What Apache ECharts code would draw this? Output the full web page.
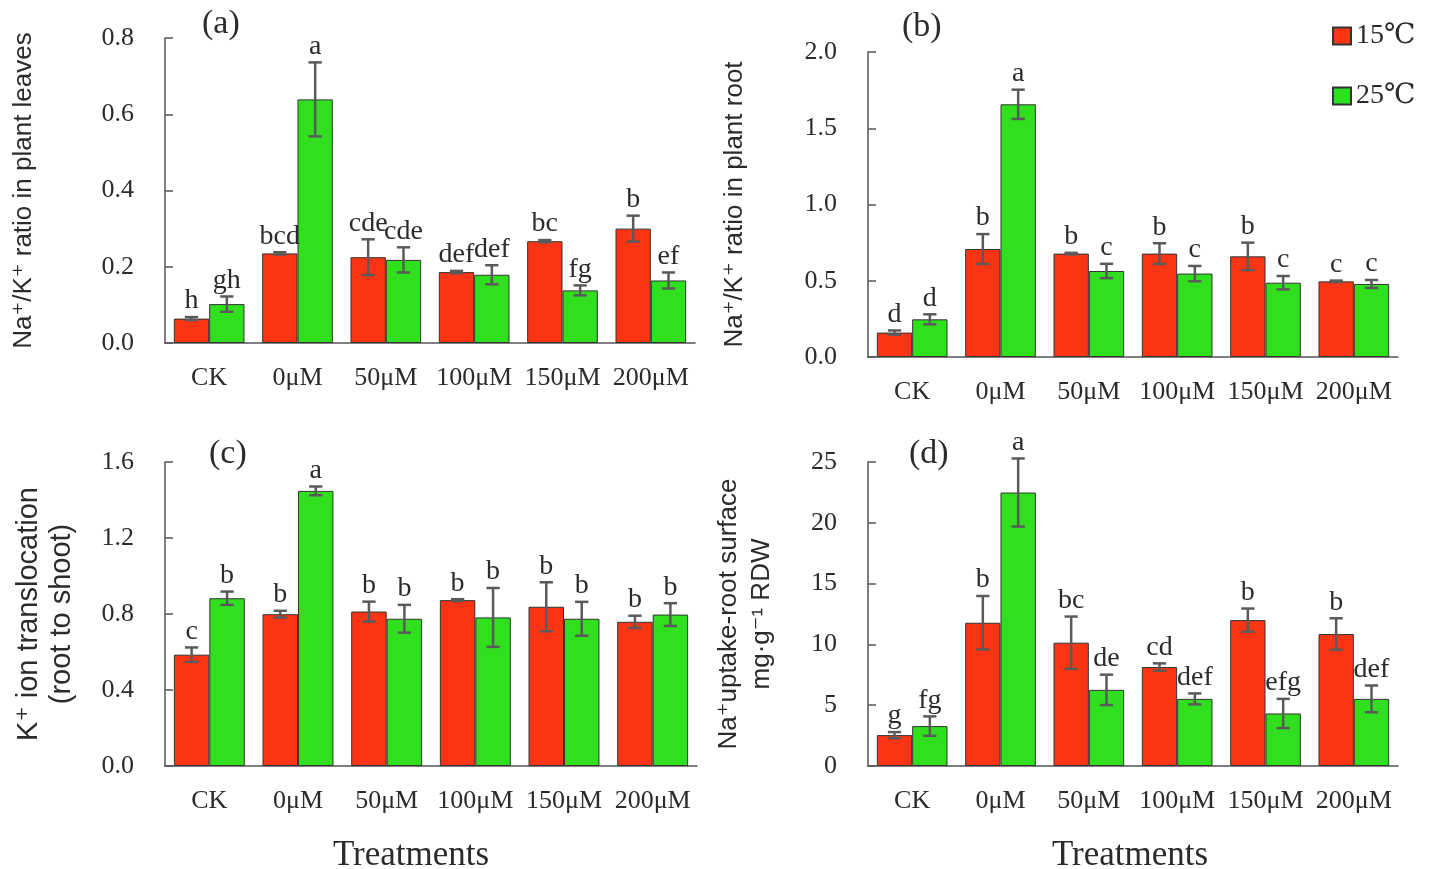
<!DOCTYPE html>
<html>
<head>
<meta charset="utf-8">
<script src="https://cdn.jsdelivr.net/npm/echarts@6/dist/echarts.min.js"></script>
<style>html,body{margin:0;padding:0;background:#fff}#c{width:1436px;height:869px}</style>
</head>
<body>
<div id="c"></div>
<script>
// ---------- data ----------
const categories = ['CK', '0μM', '50μM', '100μM', '150μM', '200μM'];
const seriesNames = ['15℃', '25℃'];

// (a) Na+/K+ ratio in plant leaves
const a15 = [0.064, 0.235, 0.225, 0.186, 0.267, 0.300];
const a15Err = [0.004, 0.003, 0.047, 0.003, 0.003, 0.034];
const a25 = [0.102, 0.639, 0.218, 0.179, 0.138, 0.164];
const a25Err = [0.020, 0.097, 0.033, 0.025, 0.013, 0.021];
const a15Let = ['h', 'bcd', 'cde', 'def', 'bc', 'b'];
const a25Let = ['gh', 'a', 'cde', 'def', 'fg', 'ef'];

// (b) Na+/K+ ratio in plant root
const b15 = [0.160, 0.708, 0.678, 0.678, 0.660, 0.496];
const b15Err = [0.014, 0.098, 0.005, 0.068, 0.090, 0.005];
const b25 = [0.247, 1.657, 0.564, 0.547, 0.487, 0.479];
const b25Err = [0.033, 0.096, 0.047, 0.050, 0.044, 0.026];
const b15Let = ['d', 'b', 'b', 'b', 'b', 'c'];
const b25Let = ['d', 'a', 'c', 'c', 'c', 'c'];

// (c) K+ ion translocation (root to shoot)
const c15 = [0.586, 0.799, 0.813, 0.873, 0.838, 0.759];
const c15Err = [0.038, 0.018, 0.052, 0.005, 0.129, 0.032];
const c25 = [0.883, 1.448, 0.775, 0.782, 0.775, 0.797];
const c25Err = [0.035, 0.023, 0.073, 0.155, 0.089, 0.060];
const c15Let = ['c', 'b', 'b', 'b', 'b', 'b'];
const c25Let = ['b', 'a', 'b', 'b', 'b', 'b'];

// (d) Na+ uptake-root surface
const d15 = [2.54, 11.78, 10.14, 8.14, 12.00, 10.85];
const d15Err = [0.25, 2.2, 2.15, 0.30, 0.95, 1.30];
const d25 = [3.28, 22.49, 6.26, 5.52, 4.32, 5.52];
const d25Err = [0.80, 2.80, 1.25, 0.45, 1.20, 1.10];
const d15Let = ['g', 'b', 'bc', 'cd', 'b', 'b'];
const d25Let = ['fg', 'a', 'de', 'def', 'efg', 'def'];

// ---------- styling ----------
const RED = '#fb3514';
const GREEN = '#30e01e';
const SERIF = '"Liberation Serif", "DejaVu Serif", serif';
const SANS = '"Liberation Sans", "DejaVu Sans", sans-serif';
const TXT = '#2b2b2b';
const AX = '#555';

const panels = [
  {v15: a15, e15: a15Err, v25: a25, e25: a25Err, l15: a15Let, l25: a25Let, max: 0.8, interval: 0.2, dec: 1,
   grid: {left: 165, top: 38, width: 530, height: 305}, name: 'Na⁺/K⁺ ratio in plant leaves', nameSize: 26, nameGap: 125, xname: '', xpad: 0},
  {v15: b15, e15: b15Err, v25: b25, e25: b25Err, l15: b15Let, l25: b25Let, max: 2.0, interval: 0.5, dec: 1,
   grid: {left: 868, top: 52, width: 530, height: 305}, name: 'Na⁺/K⁺ ratio in plant root', nameSize: 26, nameGap: 117, xname: '', xpad: 0},
  {v15: c15, e15: c15Err, v25: c25, e25: c25Err, l15: c15Let, l25: c25Let, max: 1.6, interval: 0.4, dec: 1,
   grid: {left: 165, top: 462, width: 532, height: 304}, name: 'K⁺ ion translocation\n(root to shoot)', nameSize: 29, nameGap: 87, xname: 'Treatments', xpad: 40},
  {v15: d15, e15: d15Err, v25: d25, e25: d25Err, l15: d15Let, l25: d25Let, max: 25, interval: 5, dec: 0,
   grid: {left: 868, top: 462, width: 530, height: 304}, name: 'Na⁺uptake-root surface\nmg·g⁻¹ RDW', nameSize: 26, nameGap: 90, xname: 'Treatments', xpad: 6}
];

function errRender(offsetFrac, errs, lets) {
  return function (params, api) {
    const i = api.value(0), v = api.value(1);
    const e = errs[params.dataIndex];
    const cw = api.size([1, 0])[0];
    const x = api.coord([i, v])[0] + offsetFrac * cw;
    const yt = api.coord([i, v + e])[1];
    const yb = api.coord([i, v - e])[1];
    const cap = cw * 0.075;
    const st = {stroke: '#5a5a5a', lineWidth: 2.5};
    return {
      type: 'group',
      children: [
        {type: 'line', shape: {x1: x, y1: yt, x2: x, y2: yb}, style: st},
        {type: 'line', shape: {x1: x - cap, y1: yt, x2: x + cap, y2: yt}, style: st},
        {type: 'line', shape: {x1: x - cap, y1: yb, x2: x + cap, y2: yb}, style: st},
        {type: 'text', x: x, y: yt - 2,
         style: {text: lets[params.dataIndex], fill: TXT, font: '28px ' + SERIF, textAlign: 'center', textVerticalAlign: 'bottom'}}
      ]
    };
  };
}

const grid = [], xAxis = [], yAxis = [], series = [];
panels.forEach((p, k) => {
  grid.push(Object.assign({outerBoundsMode: 'none', containLabel: false}, p.grid));
  xAxis.push({
    type: 'category', data: categories, gridIndex: k,
    axisLine: {lineStyle: {color: AX, width: 1.5}}, axisTick: {show: false},
    axisLabel: {color: TXT, fontFamily: SERIF, fontSize: 26, margin: 22, interval: 0},
    name: p.xname, nameLocation: 'middle', nameGap: 72,
    nameTextStyle: {color: TXT, fontFamily: SERIF, fontSize: 35, padding: [0, p.xpad, 0, 0]}
  });
  yAxis.push({
    type: 'value', gridIndex: k, min: 0, max: p.max, interval: p.interval,
    splitLine: {show: false},
    axisLine: {show: true, lineStyle: {color: AX, width: 1.5}},
    axisTick: {show: true, inside: true, length: 8, lineStyle: {color: AX, width: 1.5}},
    axisLabel: {color: TXT, fontFamily: SERIF, fontSize: 26, margin: 31,
      formatter: (v) => v.toFixed(p.dec)},
    name: p.name, nameLocation: 'middle', nameGap: p.nameGap,
    nameTextStyle: {color: TXT, fontFamily: SANS, fontSize: p.nameSize, lineHeight: 33}
  });
  const common = {type: 'bar', xAxisIndex: k, yAxisIndex: k, barGap: '0%', barCategoryGap: '20%'};
  series.push(Object.assign({}, common, {name: seriesNames[0], data: p.v15,
    itemStyle: {color: RED, borderColor: '#333', borderWidth: 1}}));
  series.push(Object.assign({}, common, {name: seriesNames[1], data: p.v25,
    itemStyle: {color: GREEN, borderColor: '#333', borderWidth: 1}}));
  series.push({type: 'custom', xAxisIndex: k, yAxisIndex: k, z: 5,
    data: p.v15.map((v, i) => [i, v]), encode: {x: 0, y: 1},
    renderItem: errRender(-0.2, p.e15, p.l15)});
  series.push({type: 'custom', xAxisIndex: k, yAxisIndex: k, z: 5,
    data: p.v25.map((v, i) => [i, v]), encode: {x: 0, y: 1},
    renderItem: errRender(0.2, p.e25, p.l25)});
});

const titleStyle = {color: TXT, fontFamily: SERIF, fontSize: 34, fontWeight: 'normal'};
const option = {
  animation: false,
  backgroundColor: '#fff',
  title: [
    {text: '(a)', left: 197, top: 2, textStyle: titleStyle},
    {text: '(b)', left: 897, top: 5, textStyle: titleStyle},
    {text: '(c)', left: 204, top: 432, textStyle: titleStyle},
    {text: '(d)', left: 904, top: 432, textStyle: titleStyle}
  ],
  legend: {
    data: seriesNames, orient: 'vertical', left: 1327, top: 17,
    itemWidth: 18, itemHeight: 17, itemGap: 32, icon: 'rect',
    textStyle: {color: TXT, fontFamily: SERIF, fontSize: 28}
  },
  grid, xAxis, yAxis, series
};
echarts.init(document.getElementById('c')).setOption(option);
</script>
</body>
</html>
